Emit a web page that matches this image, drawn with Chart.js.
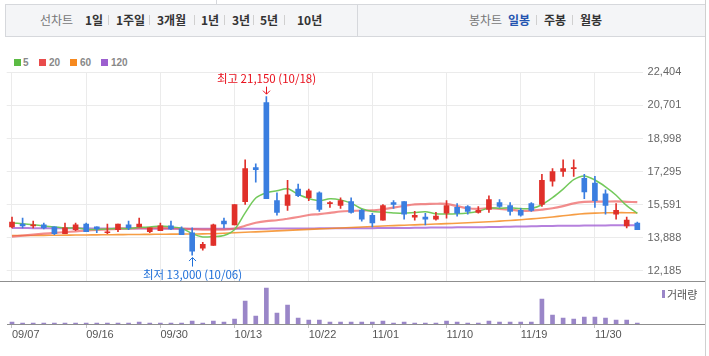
<!DOCTYPE html>
<html><head><meta charset="utf-8">
<script src="https://cdn.jsdelivr.net/npm/chart.js@4.4.0/dist/chart.umd.min.js"></script>
<style>
html,body{margin:0;padding:0;background:#fff;width:709px;height:356px;overflow:hidden;}
#wrap{position:relative;width:709px;height:356px;font-family:"Noto Sans CJK KR","Liberation Sans",sans-serif;}
.a{position:absolute;white-space:nowrap;}
#bar{left:5px;top:4px;width:701px;height:33px;background:#f4f5f7;border:1px solid #d6d8dc;box-sizing:border-box;}
.t{top:11px;font-size:12px;line-height:18px;color:#333;font-weight:bold;}
.g{color:#777;font-weight:normal;}
.sel{color:#2454b0;}
.sep{top:15px;width:1px;height:10px;background:#d0d0d0;}
.lg{top:56px;font:bold 10px "Liberation Sans",Arial,sans-serif;line-height:13px;color:#888;}
.sq{top:59px;width:7px;height:7px;}
canvas{position:absolute;left:0;}
</style></head>
<body><div id="wrap">
<div class="a" style="left:216px;top:0;width:1px;height:4px;background:#d6d8dc"></div>
<div id="bar" class="a"></div>
<div class="a" style="left:357px;top:5px;width:1px;height:31px;background:#d6d8dc"></div>
<span class="a t g" style="left:40px">선차트</span>
<span class="a t" style="left:85px">1일</span><span class="a sep" style="left:108px"></span>
<span class="a t" style="left:116px">1주일</span><span class="a sep" style="left:149px"></span>
<span class="a t" style="left:157px">3개월</span><span class="a sep" style="left:194px"></span>
<span class="a t" style="left:201px">1년</span><span class="a sep" style="left:224px"></span>
<span class="a t" style="left:232px">3년</span><span class="a sep" style="left:253px"></span>
<span class="a t" style="left:260px">5년</span><span class="a sep" style="left:284px"></span>
<span class="a t" style="left:297px">10년</span>
<span class="a t g" style="left:469px">봉차트</span>
<span class="a t sel" style="left:508px">일봉</span><span class="a sep" style="left:536px"></span>
<span class="a t" style="left:544px">주봉</span><span class="a sep" style="left:572px"></span>
<span class="a t" style="left:580px">월봉</span>

<div class="a sq" style="left:14px;background:#5bbb43"></div><span class="a lg" style="left:23px">5</span>
<div class="a sq" style="left:39px;background:#e94b4b"></div><span class="a lg" style="left:49px">20</span>
<div class="a sq" style="left:70px;background:#f6891f"></div><span class="a lg" style="left:80px">60</span>
<div class="a sq" style="left:101px;background:#9c5fcf"></div><span class="a lg" style="left:111px">120</span>

<canvas id="pc" width="709" height="221" style="top:60px"></canvas>
<canvas id="vc" width="709" height="74" style="top:282px"></canvas>
<div class="a" style="left:0;top:281px;width:706px;height:1px;background:#8f8f8f"></div>
<div class="a" style="left:7px;top:324px;width:699px;height:1px;background:#8f8f8f"></div>
<div class="a" style="left:705px;top:0;width:1px;height:356px;background:#d0d0d0"></div>
<div class="a" style="left:662px;top:290px;width:3px;height:8px;background:#9a86c8"></div>
<span class="a" style="left:667px;top:286px;font-size:11px;line-height:16px;color:#555">거래량</span>
</div>
<script>
const dates = ['09/07','09/08','09/09','09/10','09/13','09/14','09/15','09/16','09/17','09/23','09/24','09/27','09/28','09/29','09/30',
'10/01','10/05','10/06','10/07','10/08','10/12','10/13','10/14','10/15','10/18','10/19','10/20','10/21','10/22','10/25','10/26','10/27','10/28','10/29',
'11/01','11/02','11/03','11/04','11/05','11/08','11/09','11/10','11/11','11/12','11/15','11/16','11/17','11/18','11/19','11/22','11/23','11/24','11/25','11/26','11/29','11/30',
'12/01','12/02','12/03','12/06'];
const tickDates = ['09/07','09/16','09/30','10/13','10/22','11/01','11/10','11/19','11/30'];
const priceTicks = [22404,20701,18998,17295,15591,13888,12185];

const open  = [14450,14600,14500,14550,14450,14100,14300,14600,14450,14150,14300,14550,14450,14200,14250,14500,14350,14150,13350,13500,
14750,14550,15750,17500,20850,15800,15550,16400,15950,16200,15650,15550,15750,15300,15050,14800,15700,15750,14950,14950,
14850,15150,15450,15500,15200,15350,15700,15550,15300,15650,15600,16800,17300,17450,16950,16700,16150,15100,14500,14650];
const high  = [14950,14900,14750,14650,14450,14650,14650,14650,14450,14600,14600,14750,14900,14400,14650,14750,14450,14400,13650,14600,
14900,15600,17900,17700,21150,16200,16850,16650,16400,16250,15750,15950,15950,15350,15150,15600,15800,15750,15250,15150,
15200,15800,15650,15550,15500,16050,15850,15700,15400,15700,17150,17450,17900,17900,17150,17050,16350,15650,14950,14700];
const low   = [14400,14400,14400,14350,14050,14100,14250,14200,14150,14100,14200,14300,14450,14150,14250,14300,14050,13000,13250,13500,
14400,14550,15600,16750,15900,15050,15300,16000,15800,15250,15450,15400,15150,14750,14450,14800,15400,14850,14800,14550,
14800,14900,15000,15100,15150,15200,15450,15050,15000,15250,15500,16550,17050,17050,15900,15450,15100,14850,14400,14300];
const close = [14700,14500,14550,14400,14100,14400,14550,14200,14350,14200,14600,14400,14600,14400,14500,14350,14050,13200,13550,14550,
14600,15600,17450,17400,15900,15200,16100,16050,16300,15350,15700,15800,15200,14850,14650,15550,15600,15100,15050,14850,
15000,15550,15150,15250,15300,15850,15500,15250,15050,15300,16850,17300,17450,17500,16250,15800,15550,15300,14800,14300];

const ma5   = [14650,14610,14560,14500,14450,14390,14400,14330,14320,14340,14380,14350,14430,14440,14500,14450,14380,14100,13930,13950,
14010,14320,15170,15940,16200,16310,16410,16130,15910,15800,15900,15840,15670,15380,15240,15210,15170,15150,15190,15230,
15120,15110,15120,15160,15250,15420,15410,15430,15390,15390,15590,15950,16390,16880,17070,16860,16510,16080,15540,15150];
const ma20  = [13950,14000,14050,14100,14140,14180,14220,14260,14290,14320,14350,14370,14380,14390,14390,14380,14360,14330,14310,14310,
14310,14360,14510,14660,14750,14790,14870,14960,15060,15110,15170,15240,15270,15290,15300,15360,15440,15530,15610,15620,
15640,15630,15520,15410,15380,15410,15380,15340,15280,15280,15340,15410,15520,15660,15740,15750,15750,15760,15740,15720];
const ma60  = [14000,14005,14010,14015,14020,14025,14030,14035,14040,14045,14050,14055,14060,14065,14070,14075,14080,14085,14090,14100,
14120,14145,14170,14195,14220,14245,14270,14295,14320,14345,14370,14395,14420,14445,14470,14495,14515,14535,14555,14575,
14595,14615,14640,14665,14690,14715,14745,14780,14820,14860,14910,14960,15020,15080,15130,15160,15175,15180,15180,15170];
const ma120 = [14390,14390,14385,14385,14380,14380,14375,14375,14370,14370,14370,14365,14365,14360,14360,14355,14355,14350,14350,14350,
14350,14355,14355,14360,14360,14365,14365,14370,14370,14375,14375,14380,14380,14385,14385,14390,14390,14395,14400,14410,
14415,14420,14425,14430,14435,14440,14450,14460,14470,14480,14490,14500,14505,14510,14515,14520,14525,14530,14535,14540];
const volume = [200,100,100,100,100,100,100,100,100,100,100,100,200,100,100,100,100,300,100,300,
200,500,2300,800,3600,1100,1900,600,400,400,200,200,200,200,200,300,100,200,100,100,
100,300,200,100,100,300,200,200,200,200,2500,900,600,500,700,700,600,400,400,100];

const UP = '#e0302a', DOWN = '#3a7ee0';
const candleColors = close.map((c,i)=> c >= open[i] ? UP : DOWN);
const bodies = open.map((o,i)=>[o, close[i]]);
const wicks = low.map((l,i)=>[l, high[i]]);
const fmt = v => Math.round(v).toString().replace(/\B(?=(\d{3})+(?!\d))/g, ',');
const tickIdx = tickDates.map(d => dates.indexOf(d));
const filterTicks = s => { s.ticks = tickIdx.map(i => ({value:i})); };

const extremes = {
  id:'extremes',
  afterDatasetsDraw(chart){
    const {ctx, scales:{x, y}} = chart;
    let hi = 0, lo = 0;
    high.forEach((v,i)=>{ if (v > high[hi]) hi = i; });
    low.forEach((v,i)=>{ if (v < low[lo]) lo = i; });
    ctx.save();
    ctx.font = '11.5px "Noto Sans CJK KR", sans-serif';
    ctx.textAlign = 'center'; ctx.textBaseline = 'middle';
    ctx.lineWidth = 1;
    const arrow = (px, yTail, yTip, color) => {
      const dir = yTip > yTail ? 1 : -1;
      ctx.strokeStyle = color;
      ctx.beginPath();
      ctx.moveTo(px, yTail); ctx.lineTo(px, yTip);
      ctx.moveTo(px - 3.5, yTip - dir*3.5); ctx.lineTo(px, yTip); ctx.lineTo(px + 3.5, yTip - dir*3.5);
      ctx.stroke();
    };
    const hx = Math.floor(x.getPixelForValue(hi)) + 0.5, hy = y.getPixelForValue(high[hi]);
    ctx.fillStyle = '#e8101c';
    ctx.fillText('최고 ' + fmt(high[hi]) + ' (' + dates[hi] + ')', hx, hy - 18.5);
    arrow(hx, hy - 10, hy - 2.5, '#e8101c');
    const lx = Math.floor(x.getPixelForValue(lo)) + 0.5, ly = y.getPixelForValue(low[lo]);
    ctx.fillStyle = '#1f6fd8';
    ctx.fillText('최저 ' + fmt(low[lo]) + ' (' + dates[lo] + ')', lx, ly + 19.5);
    arrow(lx, ly + 11.5, ly + 2.5, '#1f6fd8');
    ctx.restore();
  }
};

const lineDs = (label, data, color, w, order) => ({type:'line', label, data, borderColor:color, borderWidth:w, pointRadius:0, tension:0.3, order});

new Chart(document.getElementById('pc'), {
  type:'bar',
  data:{labels:dates, datasets:[
    lineDs('5', ma5, 'rgba(108,198,82,0.95)', 1.5, 5),
    lineDs('20', ma20, 'rgba(236,92,92,0.7)', 2.2, 6),
    lineDs('60', ma60, 'rgba(245,140,35,0.85)', 1.6, 7),
    lineDs('120', ma120, 'rgba(163,98,212,0.8)', 2, 8),
    {label:'wick', data:wicks, backgroundColor:candleColors, barThickness:1, grouped:false, order:2},
    {label:'body', data:bodies, backgroundColor:candleColors, barThickness:5, grouped:false, order:1}
  ]},
  options:{
    responsive:false, animation:false, events:[],
    layout:{padding:{left:6.7, right:0, top:12.3, bottom:0}},
    plugins:{legend:{display:false}, tooltip:{enabled:false}},
    scales:{
      x:{offset:true, grid:{offset:false, color:'#ebebeb', drawTicks:false}, border:{display:false},
         ticks:{display:false}, afterBuildTicks:filterTicks,
         afterFit:s=>{s.height=0; s.paddingLeft=0; s.paddingRight=0;}},
      y:{position:'right', min:11665, max:22404,
         afterBuildTicks:s=>{ s.ticks = priceTicks.map(v=>({value:v})); },
         ticks:{padding:5, color:'#666', font:{size:11, family:'"Liberation Sans", Arial, sans-serif'},
                callback:(v, i)=>fmt(priceTicks[i])},
         grid:{color:'#ebebeb', drawTicks:false}, border:{display:false},
         afterFit:s=>{s.width=66.4; s.paddingTop=0; s.paddingBottom=0;}}
    }
  },
  plugins:[extremes]
});

new Chart(document.getElementById('vc'), {
  type:'bar',
  data:{labels:dates, datasets:[
    {label:'거래량', data:volume, backgroundColor:'#9a86c8', barThickness:4}
  ]},
  options:{
    responsive:false, animation:false, events:[],
    layout:{padding:{left:6.7, right:66.4, top:0, bottom:0}},
    plugins:{legend:{display:false}, tooltip:{enabled:false}},
    scales:{
      x:{offset:true, grid:{offset:false, drawOnChartArea:false, drawTicks:true, tickLength:4, color:'#c4c4c4'},
         border:{display:false},
         ticks:{autoSkip:false, maxRotation:0, align:'start', padding:0, color:'#555',
                font:{size:11, family:'"Liberation Sans", Arial, sans-serif'},
                callback:(v)=>dates[v]},
         afterBuildTicks:filterTicks,
         afterFit:s=>{s.height=32; s.paddingLeft=0; s.paddingRight=0;}},
      y:{display:false, min:0, max:4200}
    }
  }
});
</script>
</body></html>
